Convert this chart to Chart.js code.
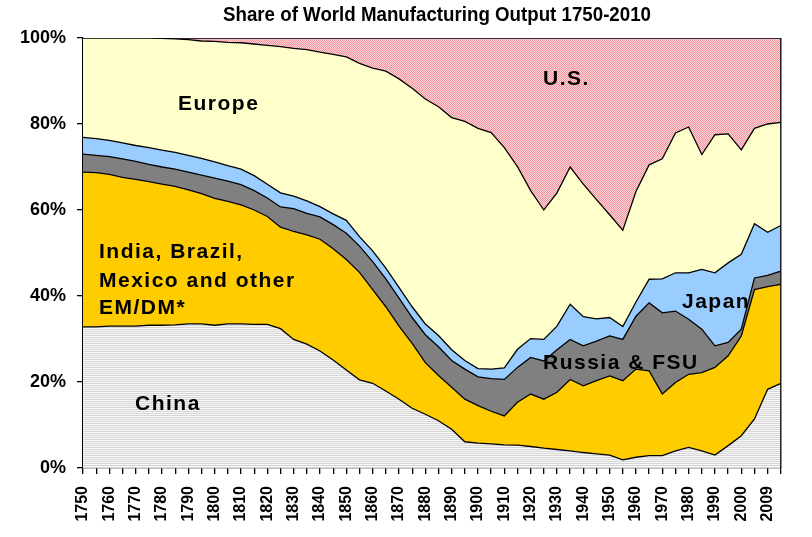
<!DOCTYPE html>
<html>
<head>
<meta charset="utf-8">
<script src="https://cdn.jsdelivr.net/npm/chart.js@4"></script>
<style>
  html, body { margin: 0; padding: 0; background: #fff; }
</style>
</head>
<body>
<canvas id="output-share" width="812" height="537"></canvas>
<script>
// share of world manufacturing output, % per region (stacked)
const years = [
  1750, 1755, 1760, 1765, 1770, 1775, 1780, 1785, 1790, 1795,
  1800, 1805, 1810, 1815, 1820, 1825, 1830, 1835, 1840, 1845,
  1850, 1855, 1860, 1865, 1870, 1875, 1880, 1885, 1890, 1895,
  1900, 1905, 1910, 1915, 1920, 1925, 1930, 1935, 1940, 1945,
  1950, 1955, 1960, 1965, 1970, 1975, 1980, 1985, 1990, 1995,
  2000, 2005, 2009, 2010
];

const china = [
  32.8, 32.8, 33.0, 33.0, 33.0, 33.2, 33.2, 33.3, 33.5, 33.5,
  33.2, 33.5, 33.5, 33.4, 33.4, 32.4, 29.9, 28.8, 27.2, 25.1,
  22.8, 20.5, 19.7, 17.9, 16.0, 13.9, 12.5, 11.0, 9.0, 6.1,
  5.8, 5.6, 5.4, 5.3, 5.0, 4.6, 4.3, 4.0, 3.6, 3.3,
  3.0, 1.9, 2.5, 2.9, 2.9, 4.0, 4.8, 4.0, 3.0, 5.2,
  7.5, 11.4, 18.3, 19.7
];

const indiaOther = [
  36.0, 35.9, 35.3, 34.6, 34.1, 33.4, 32.8, 32.2, 31.2, 30.3,
  29.5, 28.5, 27.7, 26.6, 25.1, 23.6, 25.1, 25.4, 26.0, 25.9,
  25.7, 25.0, 21.8, 19.6, 17.0, 15.1, 12.0, 10.5, 9.8, 9.9,
  8.7, 7.6, 6.7, 10.0, 12.2, 11.4, 13.3, 16.6, 15.5, 17.0,
  18.4, 18.4, 20.5, 19.7, 14.3, 15.9, 17.0, 18.2, 20.4, 20.9,
  23.2, 30.1, 23.9, 23.0
];

const russia = [
  4.2, 4.0, 4.1, 4.3, 4.2, 4.0, 4.0, 4.0, 4.1, 4.3,
  4.7, 4.7, 4.7, 4.5, 4.3, 4.7, 5.3, 5.0, 5.2, 5.6,
  6.1, 6.1, 6.5, 6.5, 6.5, 6.0, 6.5, 6.7, 6.2, 7.0,
  6.7, 7.6, 8.5, 8.1, 8.5, 8.9, 9.9, 9.3, 9.3, 9.2,
  9.3, 9.6, 12.3, 15.8, 18.9, 16.6, 12.8, 10.1, 5.0, 3.1,
  1.6, 2.7, 2.6, 3.1
];

const japan = [
  3.9, 3.9, 3.8, 3.7, 3.7, 3.9, 3.9, 3.9, 3.9, 3.9,
  3.8, 3.6, 3.6, 3.5, 3.2, 3.3, 2.9, 2.9, 2.4, 2.5,
  3.0, 2.2, 2.5, 2.5, 2.5, 2.5, 2.5, 2.6, 2.5, 2.0,
  1.9, 2.2, 2.7, 4.2, 4.4, 5.0, 5.5, 8.2, 6.8, 5.2,
  4.3, 3.0, 3.3, 5.5, 7.9, 8.9, 10.8, 13.9, 17.0, 18.5,
  17.4, 12.6, 10.0, 10.6
];

const europe = [
  23.1, 23.4, 23.8, 24.4, 25.0, 25.5, 26.0, 26.4, 26.9, 27.3,
  28.0, 28.7, 29.4, 30.6, 32.3, 34.0, 34.4, 35.2, 35.9, 37.1,
  38.0, 40.3, 42.5, 45.8, 48.5, 50.8, 52.3, 53.2, 54.0, 55.6,
  55.9, 55.0, 51.2, 42.5, 34.4, 30.1, 31.0, 31.9, 30.8, 27.7,
  23.9, 22.4, 25.7, 26.6, 27.9, 32.5, 33.9, 26.7, 32.1, 30.0,
  24.3, 22.2, 25.2, 24.0
];

const us = [
  0.0, 0.0, 0.0, 0.0, 0.0, 0.0, 0.1, 0.2, 0.4, 0.7,
  0.8, 1.0, 1.1, 1.4, 1.7, 2.0, 2.4, 2.7, 3.3, 3.8,
  4.4, 5.9, 7.0, 7.7, 9.5, 11.7, 14.2, 16.0, 18.5, 19.4,
  21.0, 22.0, 25.5, 29.9, 35.5, 40.0, 36.0, 30.0, 34.0, 37.6,
  41.1, 44.7, 35.7, 29.5, 28.1, 22.1, 20.7, 27.1, 22.5, 22.3,
  26.0, 21.0, 20.0, 19.6
];

const yTicks = [0, 20, 40, 60, 80, 100];

const FONT = "'Liberation Sans', Arial, sans-serif";

// dotted fills like the excel patterns
function dotPattern(bg, dot) {
  const c = document.createElement("canvas");
  c.width = 2;
  c.height = 2;
  const g = c.getContext("2d");
  g.fillStyle = bg;
  g.fillRect(0, 0, 2, 2);
  g.fillStyle = dot;
  g.fillRect(0, 0, 1, 1);
  g.fillRect(1, 1, 1, 1);
  return g.createPattern(c, "repeat");
}

function stripePattern(bg, line) {
  const c = document.createElement("canvas");
  c.width = 2;
  c.height = 2;
  const g = c.getContext("2d");
  g.fillStyle = bg;
  g.fillRect(0, 0, 2, 2);
  g.fillStyle = line;
  g.fillRect(0, 1, 2, 1);
  return g.createPattern(c, "repeat");
}

const series = [
  { label: "China", data: china, bg: stripePattern("#f7f7f7", "#d6d6d6") },
  { label: "India, Brazil, Mexico and other EM/DM*", data: indiaOther, bg: "#ffcc00" },
  { label: "Russia & FSU", data: russia, bg: "#808080" },
  { label: "Japan", data: japan, bg: "#99ccff" },
  { label: "Europe", data: europe, bg: "#ffffcc" },
  { label: "U.S.", data: us, bg: dotPattern("#ffd4d8", "#f0949e") },
];

// text written inside the areas + title
const areaLabels = {
  id: "areaLabels",
  afterDatasetsDraw(chart) {
    const ctx = chart.ctx;
    const a = chart.chartArea;
    ctx.save();

    // right edge of the plot
    ctx.strokeStyle = "#000";
    ctx.lineWidth = 1.3;
    ctx.beginPath();
    ctx.moveTo(a.right, a.top);
    ctx.lineTo(a.right, a.bottom);
    ctx.stroke();

    ctx.fillStyle = "#000";
    ctx.textAlign = "left";
    ctx.textBaseline = "alphabetic";
    ctx.font = "bold 21px " + FONT;
    ctx.letterSpacing = "1.5px";
    ctx.fillText("Europe", 178, 110);
    ctx.fillText("U.S.", 543, 85);
    ctx.fillText("India, Brazil,", 99, 258);
    ctx.fillText("Mexico and other", 99, 287);
    ctx.fillText("EM/DM*", 99, 314);
    ctx.fillText("China", 135, 410);
    ctx.fillText("Russia & FSU", 543, 369);
    ctx.fillText("Japan", 682, 308);

    // title, narrow bold
    ctx.letterSpacing = "0px";
    ctx.font = "bold 20px " + FONT;
    const title = "Share of World Manufacturing Output 1750-2010";
    const w = ctx.measureText(title).width;
    const sx = 428 / w;
    ctx.translate(437, 21);
    ctx.scale(sx, 1);
    ctx.textAlign = "center";
    ctx.fillText(title, 0, 0);
    ctx.restore();
  },
};

new Chart(document.getElementById("output-share"), {
  type: "line",
  data: {
    labels: years,
    datasets: series.map((s, i) => ({
      label: s.label,
      data: s.data,
      backgroundColor: s.bg,
      borderColor: "#000",
      borderWidth: 1.3,
      fill: i === 0 ? "origin" : "-1",
      pointRadius: 0,
      tension: 0,
    })),
  },
  options: {
    responsive: false,
    animation: false,
    layout: {
      padding: { top: 38, right: 28, left: 0, bottom: 0 },
    },
    plugins: {
      legend: { display: false },
      tooltip: { enabled: false },
    },
    scales: {
      x: {
        grid: { drawOnChartArea: false, tickLength: 6, color: "#000", lineWidth: 1.3 },
        border: { color: "#000", width: 1.3 },
        ticks: {
          autoSkip: false,
          minRotation: 90,
          maxRotation: 90,
          padding: 12,
          color: "#000",
          font: { family: FONT, size: 16, weight: "bold" },
          callback: (v, i) => (i % 2 === 0 ? years[i] : ""),
        },
        afterFit: (s) => {
          s.height = 69;
        },
      },
      y: {
        stacked: true,
        min: 0,
        max: 100,
        afterBuildTicks: (s) => {
          s.ticks = yTicks.map((v) => ({ value: v }));
        },
        grid: { drawOnChartArea: false, tickLength: 6, color: "#000", lineWidth: 1.3 },
        border: { color: "#000", width: 1.3 },
        ticks: {
          padding: 11,
          color: "#000",
          font: { family: FONT, size: 18, weight: "bold" },
          callback: (v) => v + "%",
        },
        afterFit: (s) => {
          s.width = 83;
        },
      },
    },
  },
  plugins: [areaLabels],
});
</script>
</body>
</html>
